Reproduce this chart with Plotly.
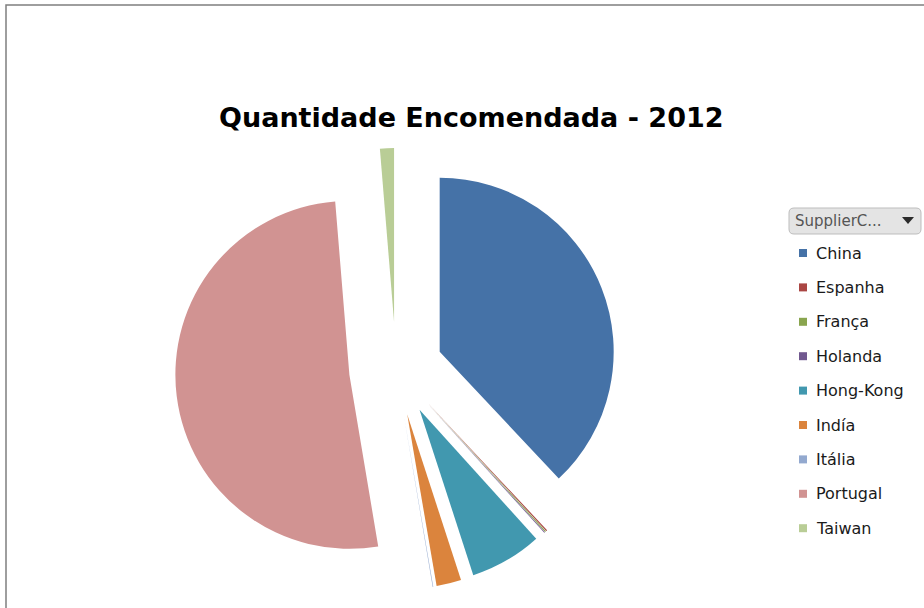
import plotly.graph_objects as go

# Ordered quantities per supplier country, 2012
suppliers = ["China", "Espanha", "França", "Holanda", "Hong-Kong",
             "Indía", "Itália", "Portugal", "Taiwan"]
quantities = [3800, 12, 10, 8, 670, 230, 5, 5135, 130]
colors = ["#4572A7", "#AA4643", "#89A54E", "#71588F", "#4198AF",
          "#DB843D", "#93A9CF", "#D19392", "#B9CD96"]

title_text = "Quantidade Encomendada - 2012"
field_button_text = "SupplierC..."

W, H = 924, 608


def fx(x):
    return x / W


def fy(y):
    return 1 - y / H


# pie geometry in pixels: centre, radius and explosion
cx, cy, r, pull = 396, 369, 174, 0.27
half = r * (1 + pull)

fig = go.Figure(go.Pie(
    labels=suppliers,
    values=quantities,
    marker=dict(colors=colors, line=dict(width=0)),
    sort=False,
    direction="clockwise",
    rotation=0,
    pull=[pull] * len(suppliers),
    textinfo="none",
    showlegend=False,
    domain=dict(x=[fx(cx - half), fx(cx + half)],
                y=[fy(cy + half), fy(cy - half)]),
))

shapes = []
annotations = []

# outer chart frame
shapes.append(dict(type="rect", xref="paper", yref="paper",
                   x0=fx(6), x1=fx(940), y0=fy(630), y1=fy(5),
                   line=dict(color="#7f7f7f", width=1.5)))

# title
annotations.append(dict(text=f"<b>{title_text}</b>", xref="paper", yref="paper",
                        x=fx(471), y=fy(117), xanchor="center", yanchor="middle",
                        showarrow=False,
                        font=dict(family="DejaVu Sans", size=27, color="#000000")))

# pivot field button
bx0, bx1, by0, by1, rr = 789, 921, 208, 234, 5
path = (f"M{fx(bx0 + rr)},{fy(by0)} L{fx(bx1 - rr)},{fy(by0)} "
        f"Q{fx(bx1)},{fy(by0)} {fx(bx1)},{fy(by0 + rr)} "
        f"L{fx(bx1)},{fy(by1 - rr)} Q{fx(bx1)},{fy(by1)} {fx(bx1 - rr)},{fy(by1)} "
        f"L{fx(bx0 + rr)},{fy(by1)} Q{fx(bx0)},{fy(by1)} {fx(bx0)},{fy(by1 - rr)} "
        f"L{fx(bx0)},{fy(by0 + rr)} Q{fx(bx0)},{fy(by0)} {fx(bx0 + rr)},{fy(by0)} Z")
shapes.append(dict(type="path", xref="paper", yref="paper", path=path,
                   fillcolor="#e4e4e4", line=dict(color="#bdbdbd", width=1)))
tri = (f"M{fx(902)},{fy(217)} L{fx(914)},{fy(217)} L{fx(908)},{fy(224)} Z")
shapes.append(dict(type="path", xref="paper", yref="paper", path=tri,
                   fillcolor="#2b2b2b", line=dict(width=0)))
annotations.append(dict(text=field_button_text, xref="paper", yref="paper",
                        x=fx(793), y=fy(221), xanchor="left", yanchor="middle",
                        showarrow=False,
                        font=dict(family="DejaVu Sans", size=15, color="#555555")))

# legend entries
for i, (name, col) in enumerate(zip(suppliers, colors)):
    yc = 253 + 34.4 * i
    shapes.append(dict(type="rect", xref="paper", yref="paper",
                       x0=fx(799), x1=fx(807), y0=fy(yc + 4), y1=fy(yc - 4),
                       fillcolor=col, line=dict(width=0)))
    annotations.append(dict(text=name, xref="paper", yref="paper",
                            x=fx(814), y=fy(yc), xanchor="left", yanchor="middle",
                            showarrow=False,
                            font=dict(family="DejaVu Sans", size=16, color="#1a1a1a")))

fig.update_layout(
    width=W, height=H,
    margin=dict(l=0, r=0, t=0, b=0),
    paper_bgcolor="#ffffff",
    plot_bgcolor="#ffffff",
    shapes=shapes,
    annotations=annotations,
)

fig.write_html("out.html")
